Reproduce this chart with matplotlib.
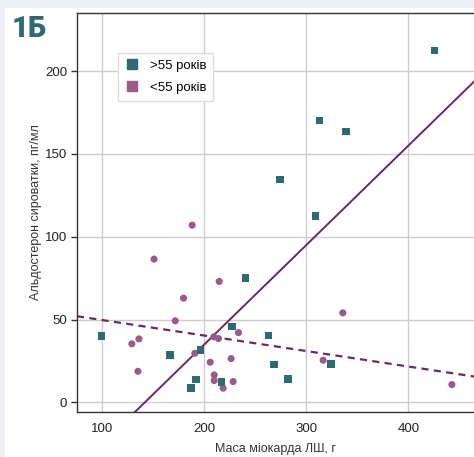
import matplotlib.pyplot as plt
from matplotlib.lines import Line2D
from matplotlib.patches import Rectangle
import numpy as np

# >55 years group (teal squares)
old_mass = [99, 166.5, 186.7, 192, 196, 216.7, 227.2, 240.5, 263, 268.3,
            282, 324, 274.2, 309, 313, 339, 425.8]
old_ald = [40, 28.4, 8.7, 13.7, 31.6, 12.1, 45.8, 75.2, 40.3, 22.8,
           13.9, 23, 134.6, 112.5, 170.3, 163.7, 212.6]

# <55 years group (purple circles)
young_mass = [188, 150.6, 179.5, 171.4, 128.8, 135.8, 134.8, 190.6, 214.5,
              209.2, 213.8, 233.4, 205.7, 209.6, 209.6, 218.4, 226.2, 228.2,
              335.8, 316.5, 442.8]
young_ald = [107, 86.5, 62.9, 49.2, 35.3, 38.3, 18.7, 29.6, 73,
             39.5, 38.5, 42.1, 24.2, 16.5, 13.1, 8.5, 26.4, 12.5,
             54, 25.4, 10.7]

# regression lines (slope, intercept)
old_fit = (0.6, -85.0)
young_fit = (-0.0935, 59.0)

x_ticks = [100, 200, 300, 400]
y_ticks = [0, 50, 100, 150, 200]

teal = "#2f6a70"
purple = "#9a5a8a"
line_col = "#6a2a5c"

fig = plt.figure(figsize=(4.74, 4.57), dpi=100)
fig.patch.set_facecolor("#edf1f5")
fig.patches.append(Rectangle((5 / 474, 0), 1, 1 - 8 / 457,
                             transform=fig.transFigure, facecolor="white",
                             edgecolor="none", zorder=-5))

ax = fig.add_axes([77 / 474, 45.3 / 457, 397 / 474, 398.4 / 457])
ax.set_facecolor("white")

ax.set_xlim(75, 464.5)
ax.set_ylim(-5.7, 235)

ax.grid(True, color="#cccccc", linewidth=1.0)
ax.set_axisbelow(True)

xs = np.array(ax.get_xlim())
ax.plot(xs, old_fit[0] * xs + old_fit[1], color=line_col, linewidth=1.4, zorder=2)
ax.plot(xs, young_fit[0] * xs + young_fit[1], color=line_col, linewidth=1.6,
        linestyle=(0, (3.2, 2.4)), zorder=2)

ax.scatter(young_mass, young_ald, s=26, marker="o", color=purple,
           edgecolors="none", zorder=3)
ax.scatter(old_mass, old_ald, s=30, marker="s", color=teal,
           edgecolors="none", zorder=3)

ax.set_xticks(x_ticks)
ax.set_yticks(y_ticks)
ax.tick_params(axis="x", length=0, pad=8, labelsize=9.5, colors="#222222")
ax.tick_params(axis="y", length=4, width=1, pad=3, labelsize=9.5,
               colors="#222222", color="#333333")
for lab in ax.get_xticklabels() + ax.get_yticklabels():
    lab.set_family("Liberation Sans")

ax.spines["right"].set_visible(False)
for side in ["left", "bottom", "top"]:
    ax.spines[side].set_color("#333333")
    ax.spines[side].set_linewidth(1.0)

ax.set_xlabel("Маса міокарда ЛШ, г", fontsize=9, family="Liberation Sans",
              color="#333333", labelpad=6)
ax.set_ylabel("Альдостерон сироватки, пг/мл", fontsize=9,
              family="Liberation Sans", color="#333333", labelpad=2)

handles = [
    Line2D([], [], marker="s", linestyle="none", color=teal, markersize=6.5),
    Line2D([], [], marker="s", linestyle="none", color=purple, markersize=6.5),
]
leg = ax.legend(handles, [">55 років", "<55 років"], loc="upper left",
                bbox_to_anchor=(0.103, 0.9), borderaxespad=0, fancybox=False,
                framealpha=1, edgecolor="#dddddd",
                prop={"family": "Liberation Sans", "size": 9.5},
                handletextpad=0.7, borderpad=0.5, labelspacing=0.75,
                handlelength=1.2)
leg.get_frame().set_linewidth(1.0)

fig.text(12 / 474, 1 - 37 / 457, "1Б", fontsize=21, fontweight="black",
         color=teal, family="Roboto")

fig.savefig("out.png", dpi=100, facecolor=fig.get_facecolor())
